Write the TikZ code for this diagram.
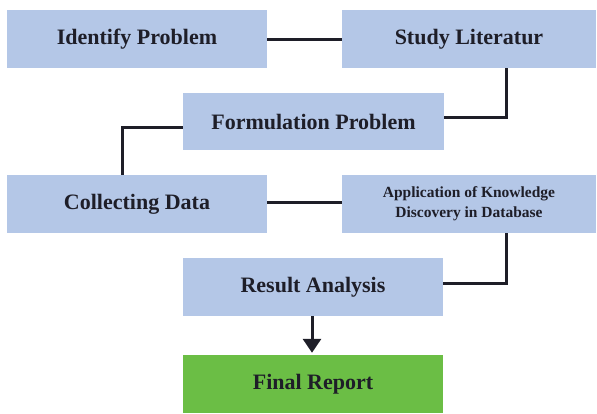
\documentclass[tikz,border=0pt]{standalone}
\usepackage{fontspec}
\setmainfont{Liberation Serif}
\usetikzlibrary{arrows.meta}
\definecolor{boxblue}{HTML}{B4C7E7}
\definecolor{boxgreen}{HTML}{6BBE45}
\definecolor{ink}{HTML}{1E1E28}
\tikzset{
  stepbox/.style={fill=boxblue, draw=none, inner sep=0pt, text=ink,
    font=\bfseries\fontsize{22}{26}\selectfont, align=center},
  smallbox/.style={stepbox, font=\bfseries\fontsize{15.5}{20}\selectfont},
  wire/.style={draw=ink, line width=3pt},
}
\begin{document}
\begin{tikzpicture}[x=1pt,y=1pt]
\useasboundingbox (0,0) rectangle (597,-413);
% process steps
\node[stepbox, minimum width=260pt, minimum height=58pt] (b1) at (137,-39) {Identify Problem};
\node[stepbox, minimum width=254pt, minimum height=58pt] (b2) at (469,-39) {Study Literatur};
\node[stepbox, minimum width=261pt, minimum height=57pt] (b3) at (313.5,-121.5) {Formulation Problem};
\node[stepbox, minimum width=260pt, minimum height=58pt] (b4) at (137,-204) {Collecting Data};
\node[smallbox, minimum width=254pt, minimum height=58pt] (b5) at (469,-204) {Application of Knowledge\\Discovery in Database};
\node[stepbox, minimum width=260pt, minimum height=58pt] (b6) at (313,-287) {Result Analysis};
\node[stepbox, fill=boxgreen, minimum width=260pt, minimum height=58pt] (b7) at (313,-384) {Final Report};
% connectors
\draw[wire] (b1.east) -- (b2.west);
\draw[wire] ([xshift=37pt]b2.south) |- ([yshift=4.5pt]b3.east);
\draw[wire] ([yshift=-5.5pt]b3.west) -| (b4.north -| 122,0);
\draw[wire] ([yshift=2pt]b4.east) -- ([yshift=2pt]b5.west);
\draw[wire] ([xshift=37pt]b5.south) |- ([yshift=4pt]b6.east);
\draw[wire, -{Triangle[width=18pt,length=14pt]}] ([xshift=-1pt]b6.south) -- ([xshift=-1pt,yshift=2pt]b7.north);
\end{tikzpicture}
\end{document}
